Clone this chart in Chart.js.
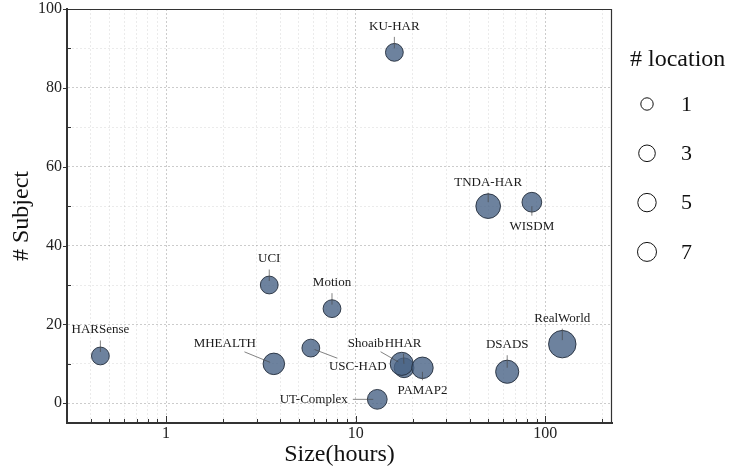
<!DOCTYPE html>
<html>
<head>
<meta charset="utf-8">
<script src="https://cdn.jsdelivr.net/npm/chart.js@4/dist/chart.umd.min.js"></script>
<style>
  html, body { margin: 0; padding: 0; background: #fff; }
  #wrap { width: 730px; height: 467px; }
</style>
</head>
<body>
<div id="wrap"><canvas id="c" width="730" height="467"></canvas></div>
<script>
// ---- data ----
const names      = ['HARSense', 'UCI', 'MHEALTH', 'USC-HAD', 'Motion', 'UT-Complex', 'KU-HAR',
                    'HHAR', 'Shoaib', 'PAMAP2', 'TNDA-HAR', 'DSADS', 'WISDM', 'RealWorld'];
const sizeHours  = [0.45, 3.5, 3.7, 5.8, 7.5, 13, 16, 18, 17.5, 22.5, 50, 63, 85, 123];
const subjects   = [12, 30, 10, 14, 24, 1, 89, 9, 10, 9, 50, 8, 51, 15];
const locations  = [1, 1, 3, 1, 1, 2, 1, 2, 4, 3, 5, 4, 2, 7];
const legendLocations = [1, 3, 5, 7];
const xMajorTicks = [1, 10, 100];
const yMajorTicks = [0, 20, 40, 60, 80, 100];

// ---- styling ----
const SERIF = '"Liberation Serif", "Times New Roman", serif';
const FILL = 'rgba(72, 99, 134, 0.8)';
const EDGE = 'rgba(35, 45, 60, 0.9)';
const AXIS = '#333';
const legendMarkerRadius = [6.2, 8.3, 9.2, 9.5];

// bubble area grows linearly with the number of sensor locations
const markerRadius = loc => Math.sqrt(61 + 18.2 * loc);

// text placement for each annotation, in pixels from the bubble centre
const labelOffset = {
  'HARSense': [0, -26], 'UCI': [0, -26], 'MHEALTH': [-49, -20], 'USC-HAD': [47, 18],
  'Motion': [0, -26], 'UT-Complex': [-63.5, 0], 'KU-HAR': [0, -26], 'HHAR': [-1, -24.5],
  'Shoaib': [-36, -20.6], 'PAMAP2': [0, 23], 'TNDA-HAR': [0, -24], 'DSADS': [0, -27],
  'WISDM': [0, 24], 'RealWorld': [0, -26]
};

// full set of log ticks (majors + minors) between the axis limits
const X_MIN = 0.3, X_MAX = 225;
const xTickValues = [];
for (let d = -1; d <= 2; d++) {
  for (let m = 1; m <= 9; m++) {
    const v = parseFloat((m * Math.pow(10, d)).toPrecision(6));
    if (v >= X_MIN && v <= X_MAX) xTickValues.push(v);
  }
}
const yTickValues = [];
for (let v = 0; v <= 100; v += 10) yTickValues.push(v);

const isXMajor = v => xMajorTicks.includes(v);
const isYMajor = v => yMajorTicks.includes(v);

const points = names.map((n, i) => ({ x: sizeHours[i], y: subjects[i], r: markerRadius(locations[i]) }));

// frame on top/right plus inward minor ticks
const framePlugin = {
  id: 'frame',
  beforeDatasetsDraw(chart) {
    const { ctx, chartArea: a, scales: { x, y } } = chart;
    ctx.save();
    ctx.strokeStyle = AXIS;
    ctx.lineWidth = 1.2;
    ctx.beginPath();
    ctx.moveTo(a.left, a.top + 0.5); ctx.lineTo(a.right, a.top + 0.5);
    ctx.moveTo(a.right - 0.5, a.top); ctx.lineTo(a.right - 0.5, a.bottom);
    ctx.stroke();
    ctx.lineWidth = 1;
    ctx.beginPath();
    xTickValues.forEach(v => {
      const px = Math.round(x.getPixelForValue(v)) + 0.5;
      const len = isXMajor(v) ? 7 : 4;
      ctx.moveTo(px, a.bottom); ctx.lineTo(px, a.bottom - len);
    });
    yTickValues.forEach(v => {
      const py = Math.round(y.getPixelForValue(v)) + 0.5;
      if (isYMajor(v)) { ctx.moveTo(a.left - 4, py); ctx.lineTo(a.left, py); }
      else { ctx.moveTo(a.left, py); ctx.lineTo(a.left + 4, py); }
    });
    ctx.stroke();
    ctx.restore();
  }
};

// dataset names with thin leader lines
const labelPlugin = {
  id: 'pointLabels',
  afterDatasetsDraw(chart) {
    const { ctx } = chart;
    const meta = chart.getDatasetMeta(0);
    ctx.save();
    ctx.font = '13px ' + SERIF;
    ctx.textAlign = 'center';
    ctx.textBaseline = 'middle';
    names.forEach((n, i) => {
      const el = meta.data[i];
      const [dx, dy] = labelOffset[n];
      const tx = el.x + dx, ty = el.y + dy;
      const w = ctx.measureText(n).width / 2 + 1, h = 6.5;
      // clip the centre-to-centre segment at the text box
      const vx = el.x - tx, vy = el.y - ty;
      let t = 1;
      if (vx !== 0) t = Math.min(t, w / Math.abs(vx));
      if (vy !== 0) t = Math.min(t, h / Math.abs(vy));
      const sx = tx + vx * t, sy = ty + vy * t;
      const L = Math.hypot(el.x - sx, el.y - sy);
      if (L > 9) {
        const ux = (el.x - sx) / L, uy = (el.y - sy) / L;
        ctx.strokeStyle = 'rgba(70, 70, 70, 0.75)';
        ctx.lineWidth = 0.9;
        ctx.beginPath();
        ctx.moveTo(sx + ux * 4, sy + uy * 4);
        ctx.lineTo(el.x - ux * 4, el.y - uy * 4);
        ctx.stroke();
      }
      ctx.fillStyle = '#1a1a1a';
      ctx.fillText(n, tx, ty);
    });
    ctx.restore();
  }
};

// size legend on the right
const sizeLegendPlugin = {
  id: 'sizeLegend',
  afterDraw(chart) {
    const { ctx } = chart;
    ctx.save();
    ctx.fillStyle = '#111';
    ctx.textBaseline = 'middle';
    ctx.textAlign = 'left';
    ctx.font = '24px ' + SERIF;
    ctx.fillText('# location', 630, 60);
    ctx.font = '22px ' + SERIF;
    legendLocations.forEach((loc, i) => {
      const cy = 104 + i * 49.3;
      ctx.beginPath();
      ctx.arc(647, cy, legendMarkerRadius[i], 0, Math.PI * 2);
      ctx.fillStyle = '#fff';
      ctx.fill();
      ctx.strokeStyle = '#111';
      ctx.lineWidth = 1;
      ctx.stroke();
      ctx.fillStyle = '#111';
      ctx.fillText(String(loc), 681, cy + 1);
    });
    ctx.restore();
  }
};

const gridColor = (major) => major ? 'rgba(0,0,0,0.2)' : 'rgba(0,0,0,0.08)';

new Chart(document.getElementById('c'), {
  type: 'bubble',
  data: {
    datasets: [{
      label: '# location',
      data: points,
      backgroundColor: FILL,
      borderColor: EDGE,
      borderWidth: 1,
      hoverBorderWidth: 1
    }]
  },
  options: {
    responsive: false,
    animation: false,
    devicePixelRatio: 1,
    layout: { autoPadding: false, padding: { top: 9, right: 118, bottom: 0, left: 0 } },
    plugins: { legend: { display: false }, tooltip: { enabled: false } },
    events: [],
    scales: {
      x: {
        type: 'logarithmic',
        position: 'bottom',
        min: X_MIN,
        max: X_MAX,
        afterBuildTicks: s => { s.ticks = xTickValues.map(v => ({ value: v })); },
        afterFit: s => { s.height = 44; s.paddingLeft = 0; s.paddingRight = 0; },
        ticks: {
          autoSkip: false, maxRotation: 0, minRotation: 0, padding: 3,
          color: '#222', font: { family: SERIF, size: 16, lineHeight: 1 },
          callback: v => isXMajor(v) ? String(v) : ''
        },
        grid: {
          drawTicks: false,
          lineWidth: 1,
          color: c => gridColor(c.tick && isXMajor(c.tick.value))
        },
        border: { display: true, color: AXIS, width: 2, dash: [2, 2] },
        title: {
          display: true, text: 'Size(hours)', color: '#111', padding: 0,
          font: { family: SERIF, size: 24, lineHeight: 1 }
        }
      },
      y: {
        type: 'linear',
        position: 'left',
        min: -5,
        max: 100,
        afterBuildTicks: s => { s.ticks = yTickValues.map(v => ({ value: v })); },
        afterFit: s => { s.width = 67; s.paddingTop = 0; s.paddingBottom = 0; },
        ticks: {
          autoSkip: false, padding: 5,
          color: '#222', font: { family: SERIF, size: 16, lineHeight: 1 },
          callback: v => isYMajor(v) ? String(v) : ''
        },
        grid: {
          drawTicks: false,
          lineWidth: 1,
          color: c => gridColor(c.tick && isYMajor(c.tick.value))
        },
        border: { display: true, color: AXIS, width: 2, dash: [2, 2] },
        title: {
          display: true, text: '# Subject', color: '#111', padding: { top: 10, bottom: 0 },
          font: { family: SERIF, size: 24, lineHeight: 1 }
        }
      }
    }
  },
  plugins: [framePlugin, labelPlugin, sizeLegendPlugin]
});
</script>
</body>
</html>
